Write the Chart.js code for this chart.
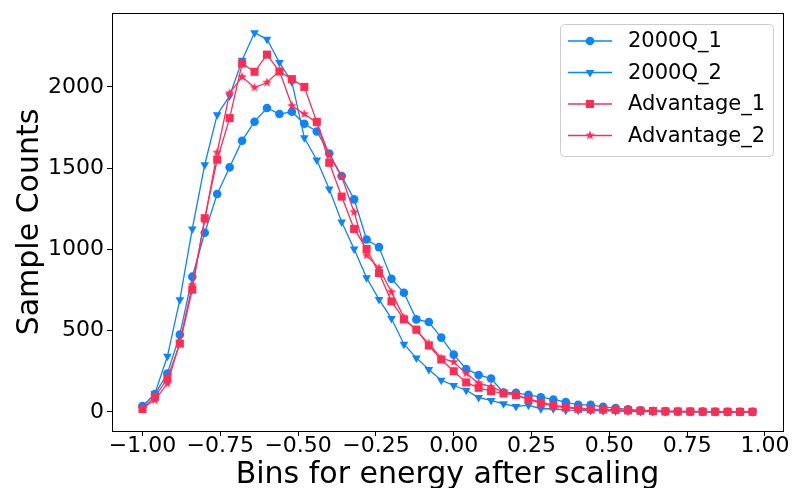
<!DOCTYPE html>
<html>
<head>
    <script src="https://cdn.jsdelivr.net/npm/chart.js@4.4.0/dist/chart.umd.min.js"></script>
    <style>
        body { margin: 0; background: white; }
        canvas#energyChart { display: block; }
    </style>
</head>
<body>
    <canvas id="energyChart" width="792" height="488"></canvas>

    <script>
        // bin centres on the x axis
        var bins = [-1.00, -0.96, -0.92, -0.88, -0.84, -0.80, -0.76, -0.72, -0.68, -0.64,
                    -0.60, -0.56, -0.52, -0.48, -0.44, -0.40, -0.36, -0.32, -0.28, -0.24,
                    -0.20, -0.16, -0.12, -0.08, -0.04, 0.00, 0.04, 0.08, 0.12, 0.16,
                    0.20, 0.24, 0.28, 0.32, 0.36, 0.40, 0.44, 0.48, 0.52, 0.56,
                    0.60, 0.64, 0.68, 0.72, 0.76, 0.80, 0.84, 0.88, 0.92, 0.96];

        var q2000_1 = [35, 109, 236, 475, 832, 1102, 1341, 1505, 1669, 1786,
                       1870, 1833, 1847, 1773, 1726, 1590, 1452, 1308, 1061, 1014,
                       819, 733, 569, 553, 457, 352, 264, 227, 205, 119,
                       117, 105, 90, 76, 60, 43, 43, 31, 23, 15,
                       9, 5, 3, 2, 1, 1, 0, 0, 0, 0];

        var q2000_2 = [30, 113, 342, 690, 1126, 1521, 1829, 1945, 2164, 2334,
                       2293, 2150, 2031, 1687, 1550, 1372, 1168, 1002, 825, 692,
                       574, 416, 332, 260, 195, 162, 133, 88, 70, 49,
                       33, 41, 19, 19, 10, 9, 8, 6, 5, 3,
                       2, 1, 0, 0, 0, 0, 0, 0, 0, 0];

        var adv_1 = [17, 92, 205, 420, 752, 1192, 1552, 1808, 2144, 2093,
                     2199, 2095, 2048, 2000, 1785, 1533, 1325, 1126, 1002, 854,
                     680, 569, 506, 408, 322, 250, 181, 148, 127, 113,
                     103, 76, 54, 35, 26, 19, 15, 14, 12, 9,
                     7, 5, 3, 2, 2, 1, 1, 0, 0, 0];

        var adv_2 = [25, 72, 174, 430, 780, 1180, 1597, 1962, 2062, 1996,
                     2027, 2099, 1884, 1833, 1780, 1581, 1448, 1229, 963, 885,
                     737, 580, 500, 420, 330, 307, 236, 178, 154, 123,
                     103, 80, 60, 40, 30, 22, 17, 14, 11, 8,
                     6, 4, 3, 2, 1, 1, 0, 0, 0, 0];

        var xTicks = [-1.00, -0.75, -0.50, -0.25, 0.00, 0.25, 0.50, 0.75, 1.00];
        var yTicks = [0, 500, 1000, 1500, 2000];

        var blue = '#0a84ff';
        var red = '#ff2d55';
        var font = "'DejaVu Sans', sans-serif";

        // matplotlib-like filled star marker
        function makeStar(color, r) {
            var c = document.createElement('canvas');
            c.width = 14; c.height = 14;
            var g = c.getContext('2d');
            g.beginPath();
            for (var i = 0; i < 10; i++) {
                var rad = (i % 2 == 0) ? r : r * 0.42;
                var a = -Math.PI / 2 + i * Math.PI / 5;
                var px = 7 + rad * Math.cos(a), py = 7 + rad * Math.sin(a);
                if (i == 0) g.moveTo(px, py); else g.lineTo(px, py);
            }
            g.closePath();
            g.fillStyle = color;
            g.fill();
            return c;
        }
        var starImg = makeStar(red, 5);

        function toPoints(vals) {
            return vals.map(function(v, i) { return {x: bins[i], y: v}; });
        }

        function series(label, vals, color, style, radius, rot, order) {
            return {
                label: label,
                data: toPoints(vals),
                borderColor: color,
                backgroundColor: color,
                pointBackgroundColor: color,
                pointBorderColor: color,
                pointBorderWidth: 0,
                borderWidth: 1.3,
                pointStyle: style,
                pointRadius: radius,
                pointRotation: rot,
                tension: 0,
                order: order
            };
        }

        var datasets = [
            series('2000Q_1', q2000_1, blue, 'circle', 4.3, 0, 4),
            series('2000Q_2', q2000_2, blue, 'triangle', 5, 180, 3),
            series('Advantage_1', adv_1, red, 'rect', 5.7, 0, 2),
            series('Advantage_2', adv_2, red, starImg, 4, 0, 1)
        ];

        function drawMarker(ctx, ds, x, y) {
            ctx.save();
            ctx.fillStyle = ds.pointBackgroundColor;
            var r = ds.pointRadius;
            if (ds.pointStyle == 'circle') {
                ctx.beginPath(); ctx.arc(x, y, r, 0, Math.PI * 2); ctx.fill();
            } else if (ds.pointStyle == 'triangle') {
                ctx.beginPath();
                ctx.moveTo(x, y + r);
                ctx.lineTo(x - r * 0.866, y - r * 0.5);
                ctx.lineTo(x + r * 0.866, y - r * 0.5);
                ctx.closePath(); ctx.fill();
            } else if (ds.pointStyle == 'rect') {
                var s = r * Math.SQRT1_2;
                ctx.fillRect(x - s, y - s, 2 * s, 2 * s);
            } else {
                ctx.drawImage(ds.pointStyle, x - 7, y - 7);
            }
            ctx.restore();
        }

        // box around the plot and the legend in the top right corner
        var framePlugin = {
            id: 'frame',
            afterDatasetsDraw: function(chart) {
                var ctx = chart.ctx, a = chart.chartArea;
                ctx.save();
                ctx.strokeStyle = 'black';
                ctx.lineWidth = 1;
                ctx.strokeRect(Math.round(a.left) + 0.5, Math.round(a.top) + 0.5,
                               Math.round(a.right - a.left), Math.round(a.bottom - a.top));

                // legend
                var bx = 560.5, by = 24.5, bw = 213, bh = 132;
                ctx.beginPath();
                ctx.roundRect(bx, by, bw, bh, 4);
                ctx.fillStyle = 'rgba(255,255,255,0.8)';
                ctx.fill();
                ctx.strokeStyle = '#cccccc';
                ctx.stroke();
                var rows = [41, 72.5, 104, 135.5];
                ctx.font = '21px ' + font;
                ctx.textBaseline = 'middle';
                chart.data.datasets.forEach(function(ds, i) {
                    var y = rows[i];
                    ctx.strokeStyle = ds.borderColor;
                    ctx.lineWidth = 1.3;
                    ctx.beginPath();
                    ctx.moveTo(568, y); ctx.lineTo(612, y);
                    ctx.stroke();
                    drawMarker(ctx, ds, 590, y);
                    ctx.fillStyle = 'black';
                    ctx.fillText(ds.label, 628, y + 1);
                });
                ctx.restore();
            }
        };

        var ctx = document.getElementById('energyChart').getContext('2d');
        var chart = new Chart(ctx, {
            type: 'line',
            data: { datasets: datasets },
            plugins: [framePlugin],
            options: {
                responsive: false,
                animation: false,
                events: [],
                layout: { padding: { left: 0, right: 9, top: 13, bottom: 0 } },
                plugins: {
                    legend: { display: false },
                    tooltip: { enabled: false }
                },
                scales: {
                    x: {
                        type: 'linear',
                        min: -1.098,
                        max: 1.058,
                        afterBuildTicks: function(s) { s.ticks = xTicks.map(function(v) { return {value: v}; }); },
                        afterFit: function(s) { s.height = 57; s.paddingLeft = 0; s.paddingRight = 0; },
                        ticks: {
                            autoSkip: false,
                            maxRotation: 0,
                            padding: -3,
                            color: 'black',
                            font: { family: font, size: 22 },
                            callback: function(v) { return (v < 0 ? '\u2212' : '') + Math.abs(v).toFixed(2); }
                        },
                        grid: { drawOnChartArea: false, drawTicks: true, tickLength: 5, tickColor: 'black' },
                        border: { display: true, color: 'black', width: 1 },
                        title: {
                            display: true,
                            text: 'Bins for energy after scaling',
                            color: 'black',
                            font: { family: font, size: 30 },
                            padding: { top: 0, bottom: -5 }
                        }
                    },
                    y: {
                        min: -118,
                        max: 2455,
                        afterBuildTicks: function(s) { s.ticks = yTicks.map(function(v) { return {value: v}; }); },
                        afterFit: function(s) { s.width = 112; s.paddingTop = 0; s.paddingBottom = 0; },
                        ticks: {
                            padding: 3,
                            color: 'black',
                            font: { family: font, size: 22 },
                            callback: function(v) { return String(v); }
                        },
                        grid: { drawOnChartArea: false, drawTicks: true, tickLength: 5, tickColor: 'black' },
                        border: { display: true, color: 'black', width: 1 },
                        title: {
                            display: true,
                            text: 'Sample Counts',
                            color: 'black',
                            font: { family: font, size: 30 },
                            padding: { top: 12, bottom: 0 }
                        }
                    }
                }
            }
        });
    </script>
</body>
</html>
